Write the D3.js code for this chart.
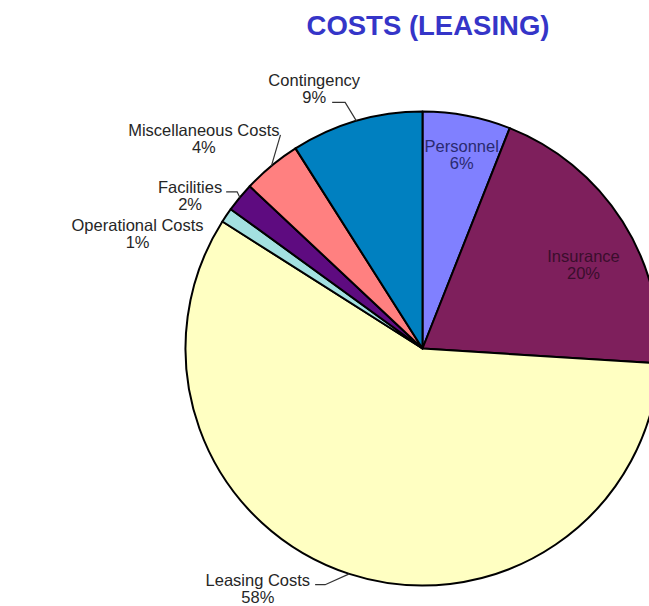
<!DOCTYPE html>
<html>
<head>
<meta charset="utf-8">
<script src="https://cdn.jsdelivr.net/npm/d3@7"></script>
<style>
  html, body { margin: 0; padding: 0; background: #fff; }
  svg { display: block; font-family: "Liberation Sans", Arial, sans-serif; }
</style>
</head>
<body>
<svg id="chart" width="649" height="606"></svg>
<script>
// Cost breakdown (percent), clockwise from 12 o'clock
const categories = ["Personnel", "Insurance", "Leasing Costs", "Operational Costs",
                    "Facilities", "Miscellaneous Costs", "Contingency"];
const values = [6, 20, 58, 1, 2, 4, 9];
const valueLabels = ["6%", "20%", "58%", "1%", "2%", "4%", "9%"];
const colors = ["#8080FF", "#7E1F5C", "#FFFFC2", "#A3E0E0", "#5E0B80", "#FF8080", "#0080C0"];

const title = "COSTS (LEASING)";

const width = 649, height = 606;
const cx = 422.5, cy = 348.5, radius = 237;

// Label placement: polar offset from slice mid-angle (degrees) and distance from centre
// to the midpoint between the two text baselines.
// Outside labels get a leader line from one of their text lines to the arc.
const labelLayout = {
  "Personnel":           { da: 1.0,   r: 192, fill: "#2A2A70" },
  "Insurance":           { da: 6.5,   r: 179, fill: "#3A0E2C" },
  "Leasing Costs":       { da: 15.8,  r: 296, fill: "#262626", leader: { line: 0, gap: 5, elbow: 10 } },
  "Operational Costs":   { da: -13.3, r: 305, fill: "#262626" },
  "Facilities":          { da: -7.3,  r: 275, fill: "#262626", leader: { line: 0, gap: 4, elbow: 11 } },
  "Miscellaneous Costs": { da: -7.4,  r: 299, fill: "#262626", leader: { line: 0, gap: 1, elbow: 0 } },
  "Contingency":         { da: -6.9,  r: 276, fill: "#262626", leader: { line: 1, gap: 6, elbow: 13 } }
};

const rows = categories.map((c, i) => ({ name: c, value: values[i], label: valueLabels[i], color: colors[i] }));

const svg = d3.select("#chart");

svg.append("text")
  .attr("x", 428)
  .attr("y", 35)
  .attr("text-anchor", "middle")
  .attr("font-size", 27.5)
  .attr("font-weight", "bold")
  .attr("fill", "#3535C8")
  .text(title);

const pie = d3.pie().value(d => d.value).sort(null).startAngle(0).endAngle(2 * Math.PI);
const arcs = pie(rows);
const arc = d3.arc().innerRadius(0).outerRadius(radius);

const g = svg.append("g").attr("transform", `translate(${cx},${cy})`);

g.selectAll("path.slice")
  .data(arcs)
  .join("path")
  .attr("class", "slice")
  .attr("d", arc)
  .attr("fill", d => d.data.color)
  .attr("stroke", "#000")
  .attr("stroke-width", 2)
  .attr("stroke-linejoin", "round");

const fontSize = 16.5, lineGap = 17.5;
const toRad = Math.PI / 180;

arcs.forEach(d => {
  const lay = labelLayout[d.data.name];
  const mid = (d.startAngle + d.endAngle) / 2;
  const a = mid + lay.da * toRad;
  const x = Math.sin(a) * lay.r;
  const yMid = -Math.cos(a) * lay.r;
  const base1 = yMid - lineGap / 2;
  const base2 = yMid + lineGap / 2;

  const t = g.append("text")
    .attr("text-anchor", "middle")
    .attr("font-size", fontSize)
    .attr("fill", lay.fill);
  const l1 = t.append("tspan").attr("x", x).attr("y", base1).text(d.data.name);
  const l2 = t.append("tspan").attr("x", x).attr("y", base2).text(d.data.label);

  if (lay.leader) {
    const node = (lay.leader.line === 0 ? l1 : l2).node();
    const w = node.getComputedTextLength();
    const yLine = (lay.leader.line === 0 ? base1 : base2) - 1;
    const x0 = x + w / 2 + lay.leader.gap;
    const ax = Math.sin(mid) * radius, ay = -Math.cos(mid) * radius;
    const pts = [[x0, yLine], [x0 + lay.leader.elbow, yLine], [ax, ay]];
    g.append("path")
      .attr("d", d3.line()(pts))
      .attr("fill", "none")
      .attr("stroke", "#333")
      .attr("stroke-width", 1.2);
  }
});
</script>
</body>
</html>
